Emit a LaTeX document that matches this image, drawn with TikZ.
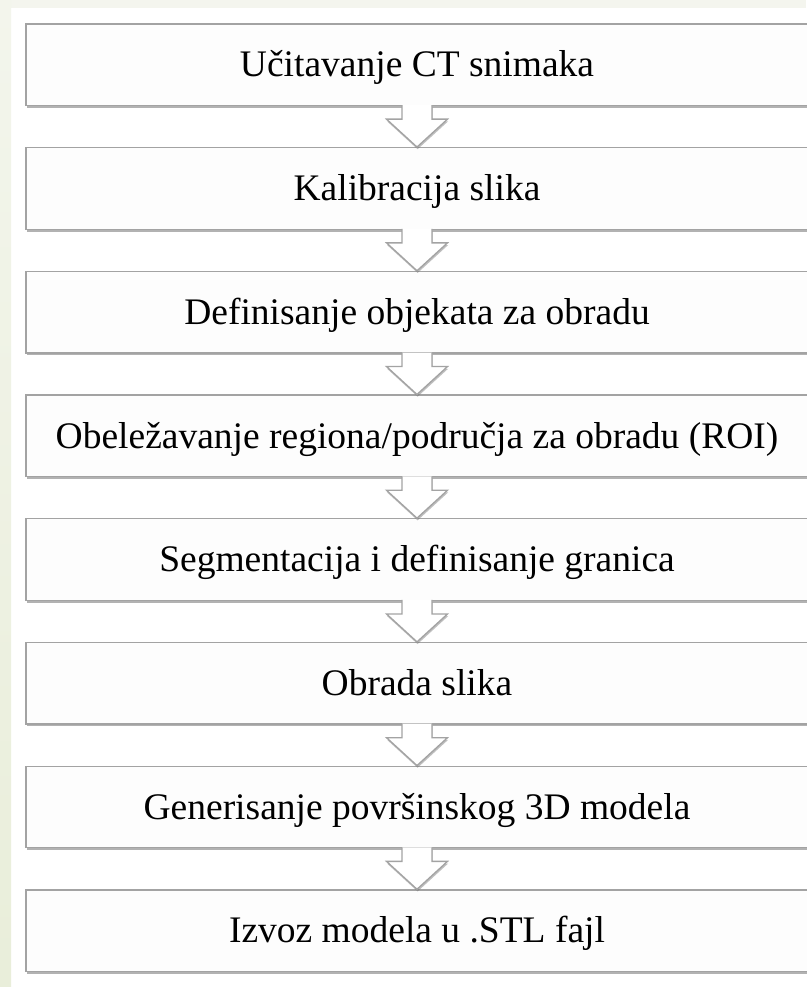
\documentclass[tikz,border=0pt]{standalone}
\usepackage{fontspec}
\setmainfont{Liberation Serif}
\usetikzlibrary{shadows,calc}
\definecolor{pagebg}{HTML}{FFFFFF}
\definecolor{stripTop}{HTML}{F4F5EE}
\definecolor{stripLeftTop}{HTML}{F3F5EC}
\definecolor{stripLeftBot}{HTML}{E9EEDA}
\definecolor{boxline}{HTML}{A3A3A3}
\definecolor{boxfill}{HTML}{FDFDFD}
\tikzset{
  stepbox/.style={draw=boxline, line width=1.3pt, fill=boxfill,
    minimum width=782pt, minimum height=81.5pt, inner sep=0pt,
    text height=24.4pt, text depth=0pt,
    font=\fontsize{37.5}{45}\selectfont,
    drop shadow={shadow xshift=0.6pt, shadow yshift=-2.4pt, fill=black!55, opacity=0.55}},
  flowarrow/.style={draw=boxline, line width=1.3pt, fill=white, line join=miter,
    drop shadow={shadow xshift=0.6pt, shadow yshift=-2.2pt, fill=black!55, opacity=0.45}}
}
\begin{document}
\begin{tikzpicture}[x=1pt,y=-1pt]
\useasboundingbox (0,0) rectangle (806,987);
\fill[pagebg] (0,0) rectangle (806,987);
\fill[stripTop] (0,0) rectangle (806,8);
\shade[top color=stripLeftTop, bottom color=stripLeftBot] (0,0) rectangle (11,987);
\node[stepbox] (b1) at (417, 64.75)  {Učitavanje CT snimaka};
\node[stepbox] (b2) at (417, 188.45) {Kalibracija slika};
\node[stepbox] (b3) at (417, 312.15) {Definisanje objekata za obradu};
\node[stepbox] (b4) at (417, 435.85) {Obeležavanje regiona/područja za obradu (ROI)};
\node[stepbox] (b5) at (417, 559.55) {Segmentacija i definisanje granica};
\node[stepbox] (b6) at (417, 683.25) {Obrada slika};
\node[stepbox] (b7) at (417, 806.95) {Generisanje površinskog 3D modela};
\node[stepbox] (b8) at (417, 930.65) {Izvoz modela u .STL fajl};
\foreach \a/\b in {b1/b2,b2/b3,b3/b4,b4/b5,b5/b6,b6/b7,b7/b8}{
  \draw[flowarrow] ($(\a.south)+(-15,-1)$) -- ($(\a.south)+(-15,13)$) -- ($(\a.south)+(-30.5,13)$)
    -- (\b.north) -- ($(\a.south)+(30.5,13)$) -- ($(\a.south)+(15,13)$) -- ($(\a.south)+(15,-1)$);
}
\end{tikzpicture}
\end{document}
